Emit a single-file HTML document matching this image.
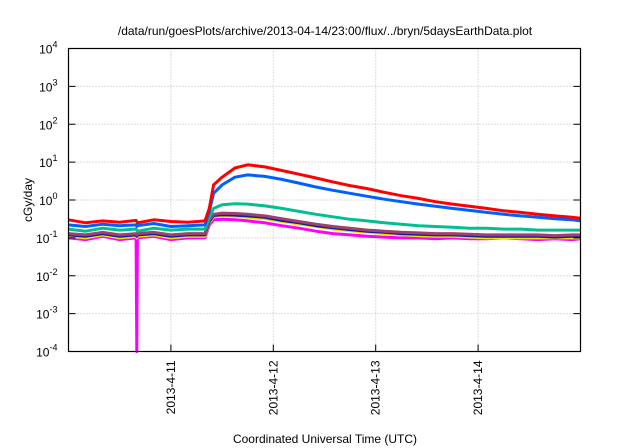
<!DOCTYPE html>
<html><head><meta charset="utf-8"><style>
body{margin:0;background:#fff}
svg{display:block;font-family:"Liberation Sans",sans-serif}
</style></head><body>
<svg id="chart" width="640" height="448" viewBox="0 0 640 448" xmlns="http://www.w3.org/2000/svg">
<text x="325" y="35" font-size="12" text-anchor="middle">/data/run/goesPlots/archive/2013-04-14/23:00/flux/../bryn/5daysEarthData.plot</text>
<text transform="translate(32,200) rotate(-90)" font-size="12" text-anchor="middle">cGy/day</text>
<text x="325" y="443" font-size="12" text-anchor="middle">Coordinated Universal Time (UTC)</text>
<g id="grid"></g>
<g id="series"></g>
<g id="axes"></g>
</svg>
<script>
const yExponents=[-4,-3,-2,-1,0,1,2,3,4];
const xTickLabels=["2013-4-11","2013-4-12","2013-4-13","2013-4-14"];
const xTickHours=[24,48,72,96];
const times=[0,4,8,12,15.85,16,16.15,20,24,28,32,33,34,36,39,42,46,50,54,58,62,66,70,74,78,82,86,90,94,98,102,106,110,114,118,120];
const red=[0.3,0.25,0.28,0.26,0.29,0.27,0.25,0.3,0.27,0.26,0.28,0.6,2.5,4,7,8.5,7.5,6,4.8,3.8,3,2.4,2,1.6,1.3,1.1,0.9,0.78,0.68,0.6,0.52,0.47,0.42,0.38,0.35,0.33];
const blue=[0.22,0.2,0.23,0.21,0.22,0.2,0.21,0.24,0.2,0.21,0.22,0.5,1.5,2.5,4,4.6,4.2,3.5,2.8,2.2,1.8,1.5,1.25,1.05,0.9,0.78,0.68,0.6,0.53,0.47,0.42,0.38,0.35,0.32,0.3,0.28];
const green=[0.17,0.15,0.18,0.16,0.17,0.16,0.15,0.18,0.16,0.17,0.17,0.35,0.6,0.75,0.8,0.78,0.7,0.6,0.5,0.42,0.36,0.31,0.28,0.25,0.23,0.21,0.2,0.19,0.18,0.18,0.17,0.17,0.16,0.16,0.16,0.16];
const purple=[0.13,0.12,0.14,0.12,0.13,0.12,0.13,0.14,0.12,0.13,0.13,0.3,0.42,0.45,0.44,0.42,0.38,0.32,0.27,0.23,0.2,0.18,0.16,0.15,0.14,0.135,0.13,0.13,0.125,0.12,0.12,0.12,0.12,0.115,0.12,0.12];
const darkblue=[0.12,0.11,0.13,0.11,0.12,0.11,0.12,0.13,0.11,0.12,0.12,0.27,0.39,0.41,0.4,0.38,0.35,0.29,0.25,0.21,0.185,0.165,0.15,0.14,0.13,0.125,0.12,0.12,0.115,0.11,0.11,0.11,0.11,0.105,0.11,0.11];
const yellow=[0.11,0.1,0.12,0.1,0.11,0.1,0.11,0.12,0.1,0.11,0.11,0.25,0.36,0.38,0.37,0.35,0.32,0.27,0.23,0.2,0.17,0.155,0.14,0.13,0.12,0.115,0.11,0.11,0.105,0.1,0.1,0.1,0.1,0.1,0.1,0.1];
const magenta=[0.1,0.09,0.11,0.09,0.1,0.0001,0.1,0.11,0.09,0.1,0.1,0.22,0.3,0.31,0.3,0.28,0.25,0.21,0.18,0.15,0.13,0.12,0.11,0.105,0.1,0.1,0.095,0.1,0.095,0.095,0.1,0.095,0.09,0.095,0.09,0.095];

const L=68.5,R=580.5,T=48.5,B=351.5,H0=0,H1=120;
const xS=h=>L+(h-H0)/(H1-H0)*(R-L);
const yS=v=>B-(Math.log10(Math.max(v,1e-4))+4)/8*(B-T);
const NS="http://www.w3.org/2000/svg";
function mk(tag,attrs,parent){const e=document.createElementNS(NS,tag);for(const k in attrs)e.setAttribute(k,attrs[k]);parent.appendChild(e);return e;}
const grid=document.getElementById('grid'),axes=document.getElementById('axes'),ser=document.getElementById('series');
yExponents.forEach(p=>{
  const y=yS(Math.pow(10,p));
  if(p>-4&&p<4){const g=mk('line',{x1:L,x2:R,y1:y,y2:y,stroke:'#bbb','stroke-dasharray':'1,2'},grid);
  
  }
  const t=mk('line',{x1:L,x2:L+7,y1:y,y2:y,stroke:'#000'},axes);
  
  
  const t2=mk('line',{x1:R,x2:R-7,y1:y,y2:y,stroke:'#000'},axes);
  
  
  const tx=mk('text',{x:L-11,y:y+5,'font-size':'12','text-anchor':'end'},axes);
  
  
  tx.textContent='10';
  const sp=mk('tspan',{dy:'-6','font-size':'9'},tx);sp.textContent=String(p);
});
xTickHours.forEach((h,i)=>{
  const x=xS(h);
  const g=mk('line',{x1:x,x2:x,y1:T,y2:B,stroke:'#bbb','stroke-dasharray':'1,2'},grid);
  
  
  const t=mk('line',{x1:x,x2:x,y1:B,y2:B-7,stroke:'#000'},axes);
  
  
  const tx=mk('text',{transform:`translate(${x+4},${B+9}) rotate(-90)`,'font-size':'12','text-anchor':'end'},axes);
  
  
  tx.textContent=xTickLabels[i];
});
const fr=mk('rect',{x:L,y:T,width:R-L,height:B-T,fill:'none',stroke:'#000','stroke-width':'1.2'},axes);


const seriesList=[["series-magenta",magenta,"#ff00ff"],["series-yellow",yellow,"#e6e600"],["series-darkblue",darkblue,"#1020a0"],["series-purple",purple,"#a04070"],["series-green",green,"#00c090"],["series-blue",blue,"#0060ff"],["series-red",red,"#ff0000"]];
seriesList.forEach(([n,vals,c])=>{
  const d=vals.map((v,i)=>(i?'L':'M')+xS(times[i]).toFixed(1)+','+yS(v).toFixed(1)).join('');
  const p=mk('path',{d:d,fill:'none',stroke:c,'stroke-width':'3','stroke-linejoin':'round'},ser);
  
  
});
</script>
</body></html>
